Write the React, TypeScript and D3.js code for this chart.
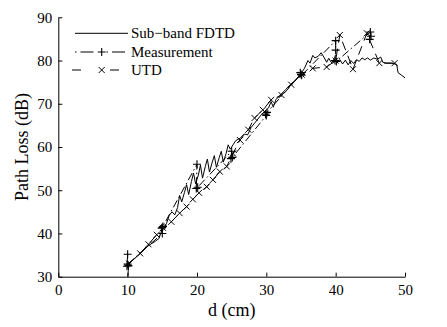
import React, { useRef, useEffect } from "react";
import * as d3 from "d3";

// Sub-band FDTD (solid line), [d (cm), path loss (dB)]
const fdtd: [number, number][] = [
  [10.0, 30.0], [10.1, 31.5], [10.2, 33.0], [11, 34.2], [12, 35.6], [13, 37.2],
  [14, 38.2], [14.5, 38.8], [14.8, 40.2], [15.2, 41.5], [15.6, 42.3], [16.0, 44.2],
  [16.4, 45.0], [16.8, 44.3], [17.2, 46.0], [17.5, 48.8], [17.8, 47.3], [18.2, 49.5],
  [18.5, 51.3], [18.8, 49.0], [19.2, 52.0], [19.5, 54.0], [19.8, 51.5], [20.2, 53.5],
  [20.5, 55.8], [20.8, 52.8], [21.2, 55.5], [21.5, 57.2], [21.8, 54.2], [22.2, 56.5],
  [22.5, 58.0], [22.8, 55.3], [23.2, 57.5], [23.5, 59.0], [23.8, 56.5], [24.2, 58.5],
  [24.5, 60.5], [24.8, 59.5], [25.2, 60.5], [25.6, 61.5], [26.2, 62.0], [26.8, 63.0],
  [27.3, 62.8], [27.8, 64.5], [28.3, 65.5], [28.8, 66.5], [29.3, 67.5], [29.8, 68.3],
  [30.3, 69.0], [30.7, 70.5], [31.0, 69.2], [31.4, 71.0], [32, 72.0], [32.8, 73.3],
  [33.5, 74.5], [34.2, 75.5], [35.0, 77.0], [35.5, 78.2], [36.0, 80.0], [36.3, 79.4],
  [36.7, 81.2], [37.0, 80.6], [37.5, 81.0], [37.9, 81.8], [38.3, 80.8], [38.7, 79.6],
  [39.0, 80.5], [39.4, 79.5], [39.8, 80.4], [40.2, 79.4], [40.6, 80.2], [41.0, 79.2],
  [41.4, 80.1], [41.8, 79.0], [42.2, 80.0], [42.6, 79.3], [43.0, 80.2], [43.4, 79.8],
  [43.8, 80.6], [44.2, 80.2], [44.6, 80.6], [45.0, 80.1], [45.5, 80.6], [46.0, 80.3],
  [46.5, 80.8], [46.8, 79.6], [47.3, 79.4], [48.0, 79.4], [48.8, 79.1], [49.0, 77.2],
  [49.5, 76.6], [50.0, 76.0],
];

// Measurement (dash-dot with +), several samples per distance
const measurement: [number, number][] = [
  [10, 35.2], [9.9, 32.4], [10.1, 32.6], [10, 32.9],
  [15, 40.0], [14.9, 41.2], [15.1, 41.6], [15, 41.4],
  [20, 56.0], [19.9, 50.4], [20.1, 50.7],
  [25, 59.0], [24.9, 57.3], [25.1, 57.6],
  [30, 67.3], [29.9, 67.6], [30.1, 68.0],
  [35, 76.8], [34.9, 77.2], [35.1, 76.6],
  [40, 84.6], [40, 82.4], [39.9, 80.0], [40.1, 79.8],
  [45, 86.6], [45.1, 85.6], [44.9, 84.9],
];

// UTD (dashed with x)
const utd: [number, number][] = [
  [10.2, 33.0], [11.8, 35.4], [13.0, 37.5], [14.2, 39.7], [15.1, 41.3], [16.3, 42.7],
  [17.5, 44.7], [18.5, 46.2], [19.4, 47.9], [20.3, 49.4], [21.4, 50.8], [22.3, 52.4],
  [23.3, 54.3], [24.3, 55.5], [25.2, 58.5], [26.2, 61.6], [27.4, 64.0], [28.3, 66.7],
  [29.5, 68.6], [30.7, 70.9], [32.2, 72.0], [33.6, 74.4], [35.1, 76.7], [36.7, 78.2],
  [38.7, 78.5], [40.0, 80.0], [40.6, 85.9], [42.5, 78.0], [44.5, 86.3], [46.3, 79.4],
  [48.5, 79.4],
];

const xTicks = [0, 10, 20, 30, 40, 50];
const yTicks = [30, 40, 50, 60, 70, 80, 90];
const legendLabels = ["Sub\u2212band FDTD", "Measurement", "UTD"];

const FONT = "Liberation Serif, DejaVu Serif, serif";

const drawPlus = (g: any, cx: number, cy: number, r: number) => {
  g.append("path")
    .attr("d", `M${cx - r},${cy}H${cx + r}M${cx},${cy - r}V${cy + r}`)
    .attr("stroke", "#000").attr("stroke-width", 1.1).attr("fill", "none");
};
const drawCross = (g: any, cx: number, cy: number, r: number) => {
  g.append("path")
    .attr("d", `M${cx - r},${cy - r}L${cx + r},${cy + r}M${cx - r},${cy + r}L${cx + r},${cy - r}`)
    .attr("stroke", "#000").attr("stroke-width", 1).attr("fill", "none");
};

const App = () => {
  const ref = useRef<SVGSVGElement>(null);

  useEffect(() => {
    if (!ref.current) return;
    const svg = d3.select(ref.current);
    svg.selectAll("*").remove();

    const x = d3.scaleLinear().domain([0, 50]).range([58.3, 405]);
    const y = d3.scaleLinear().domain([30, 90]).range([276.7, 17.3]);

    const line = d3.line<[number, number]>().x(d => x(d[0])).y(d => y(d[1]));

    // axes, ticks pointing inward
    const xAxis = svg.append("g")
      .attr("transform", `translate(0,${y(30)})`)
      .call(d3.axisBottom(x).tickValues(xTicks).tickSizeInner(-4).tickSizeOuter(0).tickPadding(8));
    const yAxis = svg.append("g")
      .attr("transform", `translate(${x(0)},0)`)
      .call(d3.axisLeft(y).tickValues(yTicks).tickSizeInner(-4).tickSizeOuter(0).tickPadding(6));
    [xAxis, yAxis].forEach(a => {
      a.attr("font-family", FONT).attr("font-size", 15);
      a.selectAll("path, line").attr("stroke", "#000").attr("stroke-width", 1);
      a.selectAll("text").attr("fill", "#000");
    });

    svg.append("text")
      .attr("x", (x(0) + x(50)) / 2).attr("y", 316)
      .attr("text-anchor", "middle")
      .attr("font-family", FONT).attr("font-size", 18)
      .text("d (cm)");
    svg.append("text")
      .attr("transform", `translate(28,${(y(30) + y(90)) / 2}) rotate(-90)`)
      .attr("text-anchor", "middle")
      .attr("font-family", FONT).attr("font-size", 18)
      .text("Path Loss (dB)");

    const plot = svg.append("g");

    plot.append("path").datum(fdtd).attr("d", line)
      .attr("fill", "none").attr("stroke", "#000").attr("stroke-width", 1);

    plot.append("path").datum(measurement).attr("d", line)
      .attr("fill", "none").attr("stroke", "#000").attr("stroke-width", 1)
      .attr("stroke-dasharray", "8,3,1.5,3");
    measurement.forEach(d => drawPlus(plot, x(d[0]), y(d[1]), 4));

    plot.append("path").datum(utd).attr("d", line)
      .attr("fill", "none").attr("stroke", "#000").attr("stroke-width", 1)
      .attr("stroke-dasharray", "9,6");
    utd.forEach(d => drawCross(plot, x(d[0]), y(d[1]), 3));

    // legend
    const lg = svg.append("g");
    const rows = [33.3, 52, 70];
    const x0 = 75, x1 = 128, xm = 101.7;
    lg.append("line").attr("x1", x0).attr("x2", x1).attr("y1", rows[0]).attr("y2", rows[0])
      .attr("stroke", "#000").attr("stroke-width", 1);
    lg.append("line").attr("x1", x0).attr("x2", x1).attr("y1", rows[1]).attr("y2", rows[1])
      .attr("stroke", "#000").attr("stroke-width", 1).attr("stroke-dasharray", "1.5,4,13,13");
    drawPlus(lg, xm, rows[1], 4);
    lg.append("line").attr("x1", x0 - 3).attr("x2", x1).attr("y1", rows[2]).attr("y2", rows[2])
      .attr("stroke", "#000").attr("stroke-width", 1).attr("stroke-dasharray", "9,14,0,15,9");
    drawCross(lg, xm, rows[2], 3);
    legendLabels.forEach((t, i) => {
      lg.append("text").attr("x", 131).attr("y", rows[i]).attr("dy", "0.33em")
        .attr("font-family", FONT).attr("font-size", 15).attr("fill", "#000")
        .text(t);
    });
  }, []);

  return (
    <svg ref={ref} width={447} height={327}
      style={{ position: "absolute", left: 0, top: 0, background: "#fff" }} />
  );
};

export default App;
